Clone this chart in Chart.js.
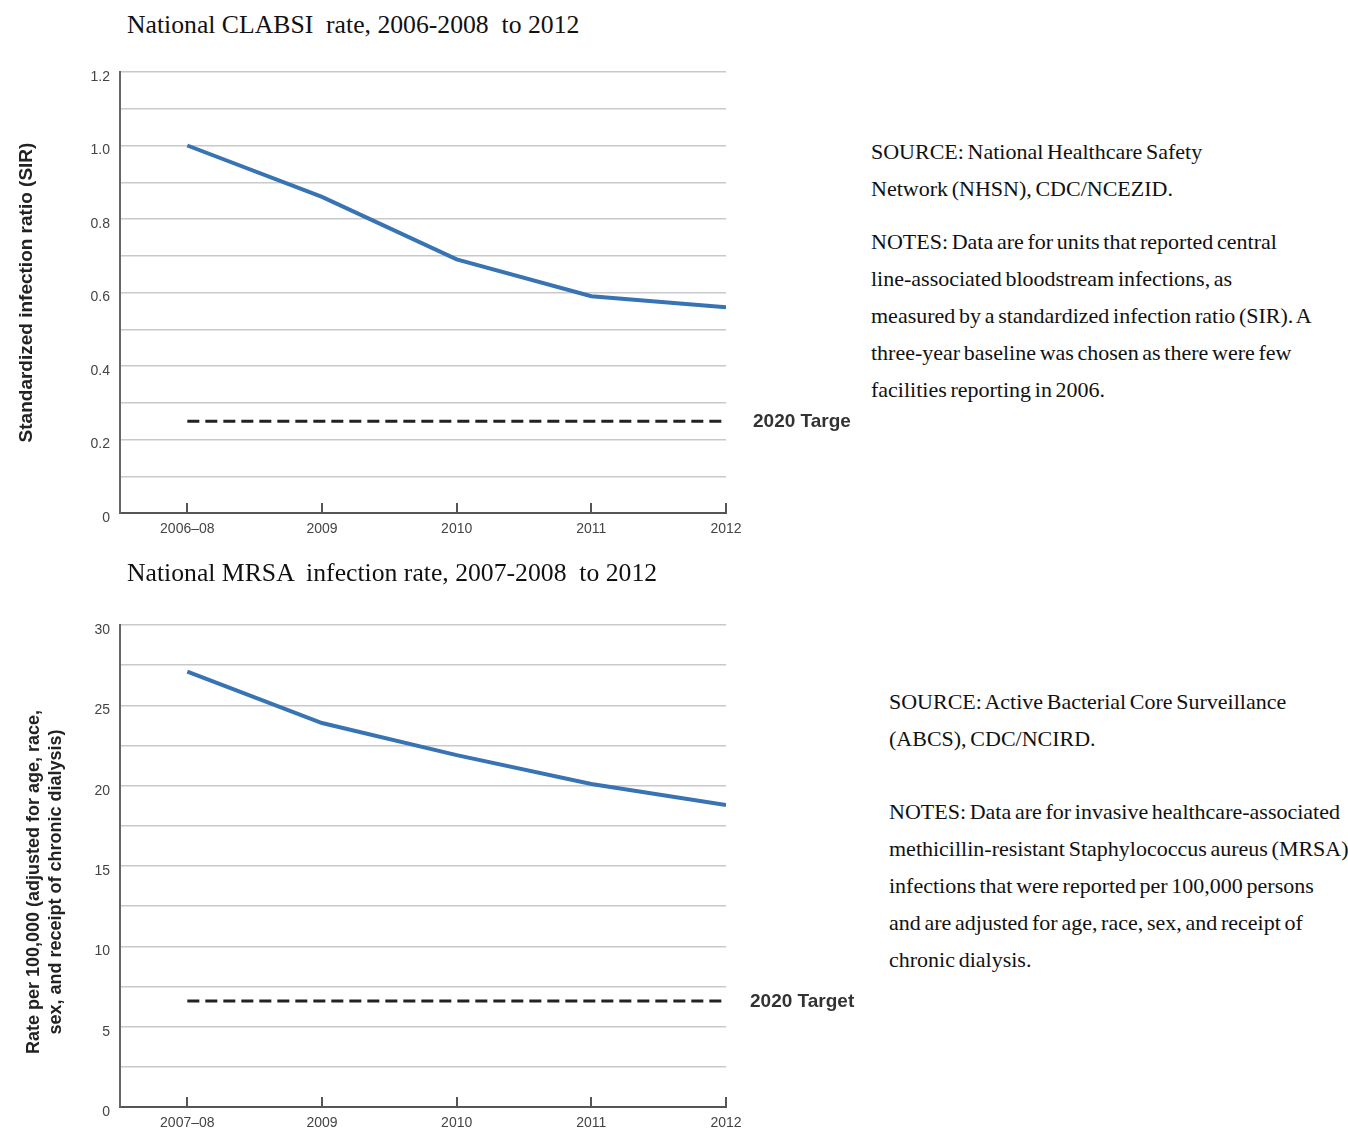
<!DOCTYPE html>
<html lang="en">
<head>
<meta charset="UTF-8">
<title>National CLABSI and MRSA rates</title>
<script src="https://cdn.jsdelivr.net/npm/chart.js"></script>
<style>
  body { margin: 0; background: #fff; width: 1348px; height: 1132px; position: relative; overflow: hidden; }
  .title { position: absolute; left: 127px; font: 25.7px/30px 'Liberation Serif', serif; color: #111; white-space: pre; }
  .note { position: absolute; font: 22px/37px 'Liberation Serif', serif; color: #111; white-space: nowrap; word-spacing: -1.8px; }
  canvas { position: absolute; left: 0; }
</style>
</head>
<body>

<div class="title" style="top:10px">National CLABSI  rate, 2006-2008  to 2012</div>
<canvas id="clabsi" width="851" height="520" style="top:40px"></canvas>
<div class="note" style="left:871px; top:133px">SOURCE:  National Healthcare Safety<br>Network (NHSN), CDC/NCEZID.</div>
<div class="note" style="left:871px; top:223px">NOTES: Data are for units that reported central<br>line-associated bloodstream infections, as<br>measured by a standardized infection ratio (SIR). A<br>three-year baseline was chosen as there were few<br>facilities reporting in 2006.</div>

<div class="title" style="top:558px">National MRSA  infection rate, 2007-2008  to 2012</div>
<canvas id="mrsa" width="860" height="542" style="top:590px"></canvas>
<div class="note" style="left:889px; top:683px">SOURCE:  Active Bacterial Core Surveillance<br>(ABCS), CDC/NCIRD.</div>
<div class="note" style="left:889px; top:793px">NOTES: Data are for invasive healthcare-associated<br>methicillin-resistant Staphylococcus aureus (MRSA)<br>infections that were reported per 100,000 persons<br>and are adjusted for age, race, sex, and receipt of<br>chronic dialysis.</div>

<script>
// CLABSI chart
const clabsiYears = ['2006–08', '2009', '2010', '2011', '2012'];
const clabsiSIR = [1.0, 0.86, 0.69, 0.59, 0.56];
const clabsiTarget = 0.25;

// MRSA chart
const mrsaYears = ['2007–08', '2009', '2010', '2011', '2012'];
const mrsaRate = [27.1, 23.9, 21.9, 20.1, 18.8];
const mrsaTarget = 6.6;

const sans = "'Liberation Sans', Arial, sans-serif";

function makeChart(id, o) {
  const n = o.labels.length;
  const linePts = o.values.map((v, i) => ({ x: i, y: v }));
  const targetPts = [{ x: 0, y: o.target }, { x: n - 1, y: o.target }];

  // inward tick marks, target label and axis title
  const extras = {
    id: 'extras',
    afterDraw(chart) {
      const { ctx, chartArea, scales: { x, y } } = chart;
      ctx.save();
      ctx.strokeStyle = '#555';
      ctx.lineWidth = 2;
      o.labels.forEach((l, i) => {
        const px = Math.round(x.getPixelForValue(i));
        ctx.beginPath();
        ctx.moveTo(px, chartArea.bottom);
        ctx.lineTo(px, chartArea.bottom - 10);
        ctx.stroke();
      });

      ctx.font = 'bold 19px ' + sans;
      ctx.fillStyle = '#333';
      ctx.textBaseline = 'middle';
      ctx.textAlign = 'left';
      ctx.fillText('2020 Target', chartArea.right + o.labelGap, y.getPixelForValue(o.target) + 1);

      ctx.font = 'bold ' + o.titleSize + 'px ' + sans;
      ctx.fillStyle = '#222';
      ctx.textAlign = 'center';
      const cy = (chartArea.top + chartArea.bottom) / 2 + o.titleShift;
      o.axisTitle.forEach((t, k) => {
        ctx.save();
        ctx.translate(o.titleX[k], cy);
        ctx.rotate(-Math.PI / 2);
        ctx.fillText(t, 0, 0);
        ctx.restore();
      });
      ctx.restore();
    }
  };

  return new Chart(document.getElementById(id), {
    type: 'line',
    data: {
      datasets: [
        {
          data: linePts,
          borderColor: '#3873b3',
          borderWidth: 4,
          pointRadius: 0,
          tension: 0
        },
        {
          data: targetPts,
          borderColor: '#222',
          borderWidth: 3,
          borderDash: [12, 6],
          pointRadius: 0
        }
      ]
    },
    options: {
      responsive: false,
      animation: false,
      layout: { padding: { top: o.padTop, right: o.padRight, left: 0, bottom: 0 } },
      plugins: { legend: { display: false }, tooltip: { enabled: false } },
      scales: {
        x: {
          type: 'linear',
          min: -0.5,
          max: n - 1,
          afterBuildTicks: s => { s.ticks = o.labels.map((_, i) => ({ value: i })); },
          afterFit: s => { s.height = o.xHeight; },
          grid: { drawOnChartArea: false, drawTicks: false },
          border: { color: '#555', width: 2 },
          ticks: {
            padding: 8,
            maxRotation: 0,
            autoSkip: false,
            color: '#444',
            font: { family: sans, size: 14 },
            callback: v => o.labels[v] ?? ''
          }
        },
        y: {
          min: 0,
          max: o.max,
          afterFit: s => { s.width = 120; },
          grid: {
            drawTicks: false,
            lineWidth: 1.5,
            color: c => c.tick && c.tick.value === 0 ? 'rgba(0,0,0,0)' : '#c9c9c9'
          },
          border: { color: '#666', width: 2 },
          ticks: {
            stepSize: o.step,
            padding: 10,
            labelOffset: 5,
            color: '#444',
            font: { family: sans, size: 14 },
            callback: o.fmt
          }
        }
      }
    },
    plugins: [extras]
  });
}

makeChart('clabsi', {
  labels: clabsiYears,
  values: clabsiSIR,
  target: clabsiTarget,
  max: 1.2,
  step: 0.1,
  fmt: v => {
    const k = Math.round(v * 10);
    if (k % 2) return '';
    return k === 0 ? '0' : (k / 10).toFixed(1);
  },
  padTop: 32,
  padRight: 125,
  xHeight: 47,
  labelGap: 27,
  axisTitle: ['Standardized infection ratio (SIR)'],
  titleSize: 19,
  titleX: [27],
  titleShift: 0
});

makeChart('mrsa', {
  labels: mrsaYears,
  values: mrsaRate,
  target: mrsaTarget,
  max: 30,
  step: 2.5,
  fmt: v => (Math.round(v * 10) % 50 === 0 ? String(Math.round(v)) : ''),
  padTop: 35,
  padRight: 134,
  xHeight: 25,
  labelGap: 24,
  axisTitle: ['Rate per 100,000 (adjusted for age, race,', 'sex, and receipt of chronic dialysis)'],
  titleSize: 18,
  titleX: [34, 56],
  titleShift: 16
});
</script>
</body>
</html>
